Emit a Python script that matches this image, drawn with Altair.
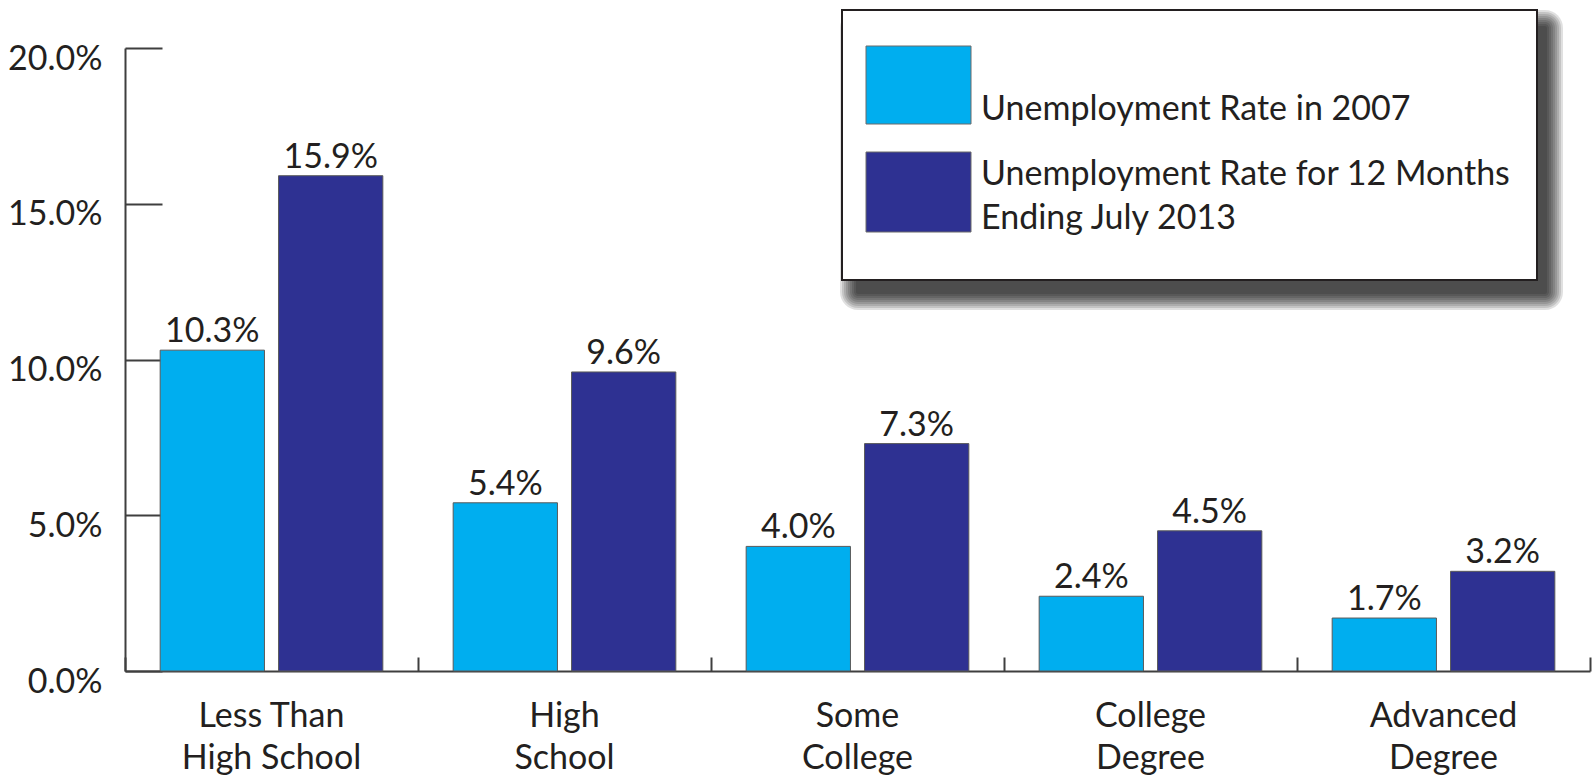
import altair as alt
import pandas as pd

# ---- data ----
categories = ["Less Than\nHigh School", "High\nSchool", "Some\nCollege", "College\nDegree", "Advanced\nDegree"]
series = ["Unemployment Rate in 2007", "Unemployment Rate for 12 Months Ending July 2013"]
rate_2007 = [10.3, 5.4, 4.0, 2.4, 1.7]
rate_2013 = [15.9, 9.6, 7.3, 4.5, 3.2]
y_ticks = [0, 5, 10, 15, 20]
legend_lines_1 = ["Unemployment Rate in 2007"]
legend_lines_2 = ["Unemployment Rate for 12 Months", "Ending July 2013"]

LIGHT = "#00AEEF"
DARK = "#2E3192"
TEXT = "#231F20"
AXIS = "#3f3f3f"
FONT = "Lato"
FS = 34

rows = []
for c, a, b in zip(categories, rate_2007, rate_2013):
    rows.append({"category": c, "series": series[0], "value": a})
    rows.append({"category": c, "series": series[1], "value": b})
df = pd.DataFrame(rows)

color_scale = alt.Scale(domain=series, range=[LIGHT, DARK])
W, H = 1465, 623

x_main = alt.X("category:N", sort=categories,
               scale=alt.Scale(paddingInner=0, paddingOuter=0),
               axis=alt.Axis(title=None, orient="bottom", labelAngle=0,
                             labelExpr="split(datum.label, '\\n')",
                             ticks=False, domain=True, domainColor=AXIS, domainWidth=2,
                             labelFont=FONT, labelFontSize=FS, labelColor=TEXT,
                             labelPadding=28, labelLineHeight=42, labelLimit=0, grid=False))
y_main = alt.Y("value:Q", scale=alt.Scale(domain=[0, 20], nice=False),
               axis=alt.Axis(title=None, orient="left", values=y_ticks,
                             labelExpr="format(datum.value, '.1f') + '%'",
                             ticks=False, domainColor=AXIS, domainWidth=2,
                             labelFont=FONT, labelFontSize=FS, labelColor=TEXT,
                             labelPadding=23, labelOffset=11, grid=False))
x_off = alt.XOffset("series:N", sort=series,
                    scale=alt.Scale(paddingInner=0.119, paddingOuter=0.297))

bars = alt.Chart(df).mark_bar(stroke="#5a5a5a", strokeWidth=1).encode(
    x=x_main, xOffset=x_off, y=y_main,
    color=alt.Color("series:N", sort=series, scale=color_scale, legend=None),
)

values = alt.Chart(df).transform_calculate(
    label="format(datum.value, '.1f') + '%'"
).mark_text(baseline="middle", dy=-18, font=FONT, fontSize=FS, color=TEXT).encode(
    x=alt.X("category:N", sort=categories,
            axis=alt.Axis(title=None, orient="bottom", labels=False, domain=False, ticks=True,
                          tickBand="extent", tickSize=14, offset=-14, tickColor=AXIS,
                          tickWidth=2, grid=False)),
    xOffset=alt.XOffset("series:N", sort=series),
    y=alt.Y("value:Q",
            axis=alt.Axis(title=None, orient="left", labels=False, domain=False, ticks=True,
                          values=y_ticks, tickSize=37, offset=-37, tickColor=AXIS,
                          tickWidth=2, grid=False)),
    text="label:N",
)

# ---- legend (drawn box with soft shadow) ----
one = pd.DataFrame({"k": [0]})
BX0, BX1, BY0, BY1 = 717, 1412, -38, 232
shadow_layers = []
for i in range(9):
    e = 2 * i
    shadow_layers.append(
        alt.Chart(one).mark_rect(color="black", opacity=0.12, cornerRadius=e + 2).encode(
            x=alt.value(BX0 + 14 - e), x2=alt.value(BX1 + 10 + e),
            y=alt.value(BY0 + 16 - e), y2=alt.value(BY1 + 14 + e),
        )
    )
box = alt.Chart(one).mark_rect(fill="white", stroke=TEXT, strokeWidth=2).encode(
    x=alt.value(BX0), x2=alt.value(BX1), y=alt.value(BY0), y2=alt.value(BY1)
)
sw1 = alt.Chart(pd.DataFrame({"series": [series[0]]})).mark_rect(stroke="#6a6a6a", strokeWidth=1).encode(
    x=alt.value(741), x2=alt.value(846), y=alt.value(-2), y2=alt.value(76),
    color=alt.Color("series:N", scale=color_scale, legend=None),
)
sw2 = alt.Chart(pd.DataFrame({"series": [series[1]]})).mark_rect(stroke="#6a6a6a", strokeWidth=1).encode(
    x=alt.value(741), x2=alt.value(846), y=alt.value(104), y2=alt.value(184),
    color=alt.Color("series:N", scale=color_scale, legend=None),
)
lt1 = alt.Chart(pd.DataFrame({"t": legend_lines_1})).mark_text(
    align="left", baseline="middle", font=FONT, fontSize=FS, color=TEXT
).encode(x=alt.value(856), y=alt.value(62), text="t:N")
lt2 = alt.Chart(pd.DataFrame({"t": [legend_lines_2[0]]})).mark_text(
    align="left", baseline="middle", font=FONT, fontSize=FS, color=TEXT
).encode(x=alt.value(856), y=alt.value(127), text="t:N")
lt3 = alt.Chart(pd.DataFrame({"t": [legend_lines_2[1]]})).mark_text(
    align="left", baseline="middle", font=FONT, fontSize=FS, color=TEXT
).encode(x=alt.value(856), y=alt.value(171), text="t:N")

chart = alt.layer(
    bars, values, *shadow_layers, box, sw1, sw2, lt1, lt2, lt3
).resolve_axis(x="independent", y="independent").properties(
    width=W, height=H,
    autosize=alt.AutoSizeParams(type="none"),
    padding={"left": 125, "top": 48, "right": 4, "bottom": 108},
    background="white",
).configure_view(stroke=None)

chart.save("out.html", embed_options={"renderer": "svg", "actions": False})
